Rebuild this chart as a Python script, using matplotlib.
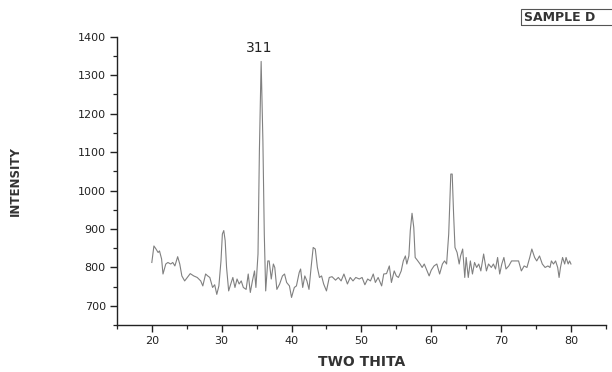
import matplotlib
matplotlib.use('Agg')
import matplotlib.pyplot as plt
from matplotlib.ticker import MultipleLocator
from matplotlib.patches import Rectangle

# XRD pattern
two_theta = [
    20.0, 20.3, 20.6, 20.9, 21.1, 21.4, 21.6, 22.0, 22.3, 22.7, 23.0, 23.3, 23.7,
    24.0, 24.3, 24.7, 25.0, 25.5, 26.0, 26.5, 27.0, 27.3, 27.7, 28.0, 28.3, 28.7,
    29.0, 29.3, 29.6, 29.9, 30.1, 30.3, 30.5, 30.7, 31.0, 31.3, 31.6, 31.9, 32.2,
    32.5, 32.8, 33.1, 33.5, 33.8, 34.1, 34.4, 34.7, 34.9, 35.2, 35.4, 35.65, 35.9,
    36.1, 36.3, 36.6, 36.8, 37.1, 37.4, 37.6, 37.9, 38.3, 38.7, 39.0, 39.3, 39.7,
    40.0, 40.4, 40.7, 41.1, 41.3, 41.6, 41.9, 42.2, 42.5, 42.8, 43.1, 43.4, 43.7,
    44.0, 44.3, 44.6, 45.0, 45.4, 45.8, 46.3, 46.7, 47.1, 47.5, 48.0, 48.4, 48.8,
    49.2, 49.7, 50.1, 50.5, 50.9, 51.3, 51.7, 52.0, 52.4, 52.9, 53.2, 53.6, 54.0,
    54.3, 54.7, 55.0, 55.3, 55.7, 56.0, 56.3, 56.5, 56.8, 57.0, 57.25, 57.5, 57.7,
    58.0, 58.4, 58.7, 59.0, 59.4, 59.7, 60.0, 60.4, 60.8, 61.2, 61.6, 61.9, 62.2,
    62.5, 62.8, 63.0, 63.2, 63.4, 63.7, 64.0, 64.2, 64.5, 64.8, 65.0, 65.3, 65.6,
    65.9, 66.2, 66.5, 66.8, 67.1, 67.5, 67.9, 68.2, 68.6, 68.9, 69.2, 69.5, 69.8,
    70.1, 70.4, 70.7, 71.1, 71.5, 72.0, 72.5, 72.9, 73.3, 73.7, 74.1, 74.4, 74.8,
    75.1, 75.5, 75.9, 76.3, 76.7, 77.0, 77.2, 77.5, 77.8, 78.1, 78.3, 78.5, 78.8,
    79.1, 79.3, 79.6, 79.8, 80.0,
]
intensity = [
    813, 856, 848, 839, 843, 822, 783, 809, 813, 809, 813, 804, 828,
    809, 778, 765, 772, 784, 778, 774, 765, 752, 783, 778, 774, 748,
    755, 730, 752, 817, 887, 896, 870, 800, 739, 757, 774, 748, 770,
    757, 765, 748, 743, 783, 735, 765, 791, 748, 835, 1104, 1336, 1130,
    887, 739, 817, 817, 770, 809, 800, 743, 757, 778, 783, 761, 752,
    722, 748, 752, 787, 796, 748, 778, 765, 743, 800, 852, 848, 800,
    774, 778, 757, 739, 774, 776, 767, 774, 765, 783, 757, 774, 765,
    774, 770, 774, 755, 770, 765, 783, 761, 774, 752, 783, 784, 804,
    761, 791, 778, 774, 791, 817, 830, 809, 830, 896, 941, 904, 826,
    819, 809, 800, 809, 791, 778, 793, 804, 809, 783, 809, 817, 809,
    887, 1043, 1043, 939, 852, 839, 809, 830, 848, 774, 826, 774, 817,
    783, 813, 800, 809, 791, 835, 791, 809, 800, 809, 796, 826, 783,
    809, 826, 796, 804, 817, 817, 817, 791, 804, 800, 826, 848, 826,
    817, 830, 809, 800, 804, 800, 817, 809, 817, 800, 774, 800, 826,
    809, 826, 809, 817, 809,
]

x_ticks = [20, 30, 40, 50, 60, 70, 80]
y_ticks = [700, 800, 900, 1000, 1100, 1200, 1300, 1400]

plt.rcParams['font.family'] = ['DejaVu Sans']

fig = plt.figure(figsize=(6.12, 3.72), dpi=100)
ax = fig.add_axes([0.191, 0.126, 0.799, 0.775])

ax.plot(two_theta, intensity, color='#808080', linewidth=0.8)

ax.set_xlim(15, 85)
ax.set_ylim(650, 1400)
ax.set_xticks(x_ticks)
ax.set_yticks(y_ticks)
ax.xaxis.set_minor_locator(MultipleLocator(5))
ax.yaxis.set_minor_locator(MultipleLocator(50))

for side in ['top', 'right']:
    ax.spines[side].set_visible(False)
for side in ['left', 'bottom']:
    ax.spines[side].set_linewidth(1.0)
    ax.spines[side].set_color('#222222')

ax.tick_params(which='major', direction='out', length=5, width=1.0,
               colors='#222222', labelsize=8, pad=3)
ax.tick_params(which='minor', direction='out', length=3, width=0.9,
               colors='#222222')

ax.set_xlabel('TWO THITA', fontsize=10, fontweight='bold', color='#333333',
              labelpad=6)
ax.set_ylabel('INTENSITY', fontsize=8.5, fontweight='bold', color='#333333',
              labelpad=40)

ax.text(35.35, 1372, '311', fontsize=10, color='#222222',
        ha='center', va='center')

fig.patches.append(Rectangle((0.851, 0.933), 0.16, 0.043,
                             transform=fig.transFigure, fill=False,
                             edgecolor='#555555', linewidth=0.8))
fig.text(0.857, 0.954, 'SAMPLE D', fontsize=9, fontweight='bold',
         color='#333333', ha='left', va='center')

fig.savefig('out.png', dpi=100)
